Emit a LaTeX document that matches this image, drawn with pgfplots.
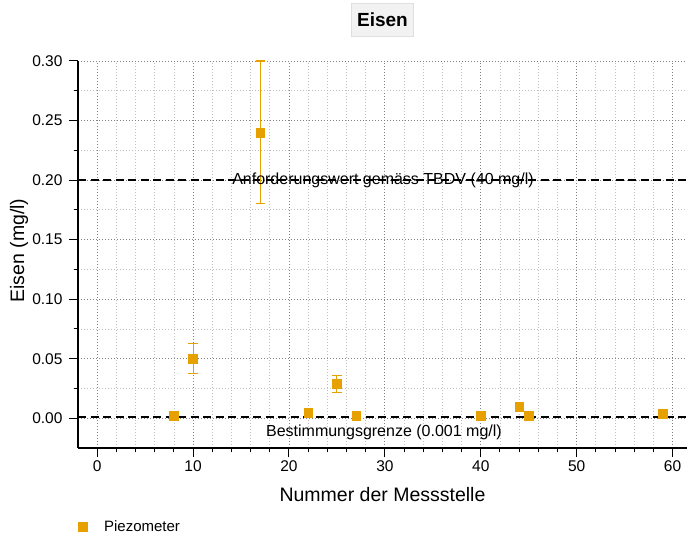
\documentclass[border=0pt]{standalone}
\usepackage{fontspec}
\setmainfont{Liberation Sans}
\usepackage{pgfplots}
\usepackage{pgfplotstable}
\pgfplotsset{compat=1.18}
\definecolor{piezo}{RGB}{230,160,0}
\pgfplotstableread{
x y ep em
8 0.002 0 0
10 0.050 0.0125 0.0125
17 0.240 0.060 0.060
22 0.0048 0 0
25 0.029 0.0072 0.0072
27 0.002 0 0
40 0.002 0 0
44 0.0097 0 0
45 0.002 0 0
59 0.0038 0 0
}\data
\begin{document}
\begin{tikzpicture}
\begin{axis}[
  at={(0,0)}, anchor=south west,
  scale only axis, width=609pt, height=387pt,
  xmin=-2, xmax=61.5, ymin=-0.025, ymax=0.30,
  clip mode=individual,
  axis lines*=left,
  axis line style={line width=1.2pt, black},
  xtick={0,10,20,30,40,50,60},
  ytick={0,0.05,0.10,0.15,0.20,0.25,0.30},
  minor x tick num=4, minor y tick num=1,
  tick align=outside, major tick length=9pt, minor tick length=4.5pt,
  every tick/.style={black, line width=1pt},
  grid=both,
  major grid style={black!50, line width=0.8pt, dash pattern=on 1pt off 2pt},
  minor grid style={black!25, line width=0.8pt, dash pattern=on 1pt off 2pt},
  /pgf/number format/assume math mode=true,
  tick label style={font=\fontsize{15.5}{18}\selectfont},
  yticklabel style={xshift=-3pt, /pgf/number format/.cd, fixed, fixed zerofill, precision=2},
  xticklabel style={/pgf/number format/.cd, fixed},
  xlabel={Nummer der Messstelle},
  ylabel={Eisen (mg/l)},
  label style={font=\fontsize{19.5}{22}\selectfont},
  xlabel style={at={(axis description cs:0.5,0)}, anchor=center, yshift=-47pt},
  ylabel style={at={([xshift=-59pt]axis description cs:0,0.51)}, anchor=center},
  title={Eisen},
  title style={at={(axis description cs:0.5,1)}, anchor=center, yshift=35.5pt,
    font=\bfseries\fontsize{19}{22}\selectfont, fill=gray!10, draw=gray!25,
    minimum width=62pt, minimum height=33pt, inner sep=0pt},
  legend style={draw=none, fill=none, at={(0,0)}, anchor=west, xshift=-3pt, yshift=-79pt,
    font=\fontsize{15}{18}\selectfont},
  legend cell align=left,
  legend image code/.code={\path[draw=none, fill=none] (0pt,0pt) -- (19.5pt,0pt); \draw[#1] plot coordinates {(0pt,0pt)};},
]
\addplot[black, line width=1.3pt, dash pattern=on 8pt off 4.5pt, forget plot] coordinates {(-2,0.2) (61.5,0.2)};
\addplot[black, line width=1.3pt, dash pattern=on 8pt off 4.5pt, forget plot] coordinates {(-2,0.001) (61.5,0.001)};
\addplot[only marks, mark=square*, mark size=4.4pt, color=piezo, mark options={draw=none, fill=piezo},
  error bars/.cd, y dir=both, y explicit,
  error bar style={line width=1.1pt, color=piezo, solid},
  error mark options={rotate=90, mark size=4.6pt, line width=1.1pt, color=piezo}]
  table[x=x, y=y, y error plus=ep, y error minus=em] {\data};
\addlegendentry{Piezometer}
\node[font=\fontsize{16}{19}\selectfont, anchor=center] at (axis cs:29.8,0.2) {Anforderungswert gemäss TBDV (40 mg/l)};
\node[font=\fontsize{16}{19}\selectfont, anchor=center] at (axis cs:29.9,-0.0118) {Bestimmungsgrenze (0.001 mg/l)};
\end{axis}
\pgfresetboundingbox
\path[use as bounding box] (-78pt,-86pt) rectangle (609pt,448pt);
\end{tikzpicture}
\end{document}
